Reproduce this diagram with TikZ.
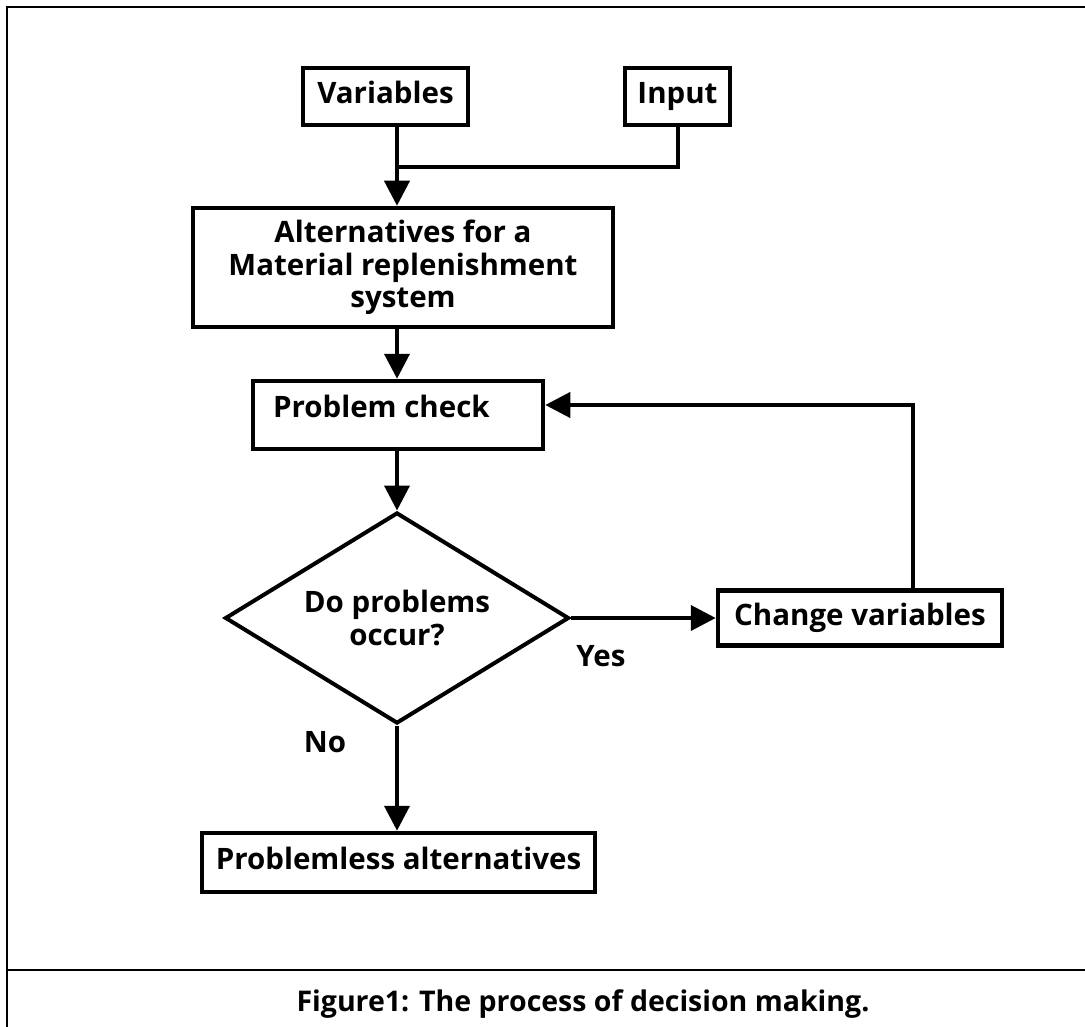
\documentclass[tikz,border=0pt]{standalone}
\usepackage{fontspec}
\setmainfont{Open Sans}
\usetikzlibrary{arrows.meta,shapes.geometric}

\begin{document}
\begin{tikzpicture}[x=1pt,y=-1pt,
  font=\fontsize{29.5}{32.5}\selectfont\bfseries,
  box/.style={draw, line width=4.5pt, inner sep=0pt, align=center,
              text height=21pt, text depth=7pt},
  link/.style={line width=4pt},
  arr/.style={link, -{Triangle[length=25pt,width=25pt]}},
  frameline/.style={line width=2.5pt}]

% page frame and caption rule
\useasboundingbox (0,0) rectangle (1085,1027);
\draw[frameline] (1085,7) -- (7,7) -- (7,1027);
\draw[frameline] (7,970) -- (1085,970);

% boxes
\node[box, minimum width=165pt, minimum height=57pt] (var) at (385.5,96.5) {Variables};
\node[box, minimum width=105pt, minimum height=57pt] (inp) at (677.5,96.5) {Input};
\node[box, minimum width=420pt, minimum height=119pt, text height=, text depth=]
  (alt) at (403,267.5) {Alternatives for a\\Material replenishment\\system};
\node[box, minimum width=290pt, minimum height=68pt, text height=21pt, text depth=17pt]
  (pc) at (398,415) {\makebox[250pt][l]{Problem check}};
\node[draw, diamond, line width=4pt, minimum width=344pt, minimum height=211pt,
      inner sep=0pt,
      label={[align=center]center:Do problems\\occur?}] (dec) at (397,618) {};
\node[box, minimum width=284pt, minimum height=55pt] (cv) at (860,618) {Change variables};
\node[box, minimum width=393pt, minimum height=59pt] (pa) at (398.5,862.5) {Problemless alternatives};

% branch labels and caption
\node (yes) at (601,656) {Yes};
\node (no) at (325,742) {No};
\node[font=\fontsize{28.5}{32}\selectfont\bfseries] (cap) at (583,1004)
  {Figure1: The process of decision making.};

% connectors
\coordinate (join) at (397,167);
\coordinate (fb) at (913,405);
\draw[arr] (var.south -| join) -- (alt.north -| join);
\draw[link] (inp.south) |- (join);
\draw[arr] (alt.south -| join) -- (pc.north -| join);
\draw[arr] (pc.south -| dec.north) -- (dec.north);
\draw[arr] (dec.east) -- (cv.west);
\draw[arr] (dec.south) -- (pa.north -| dec.south);
\draw[arr] (cv.north -| fb) -- (fb) -- (fb -| pc.east);
\end{tikzpicture}
\end{document}
